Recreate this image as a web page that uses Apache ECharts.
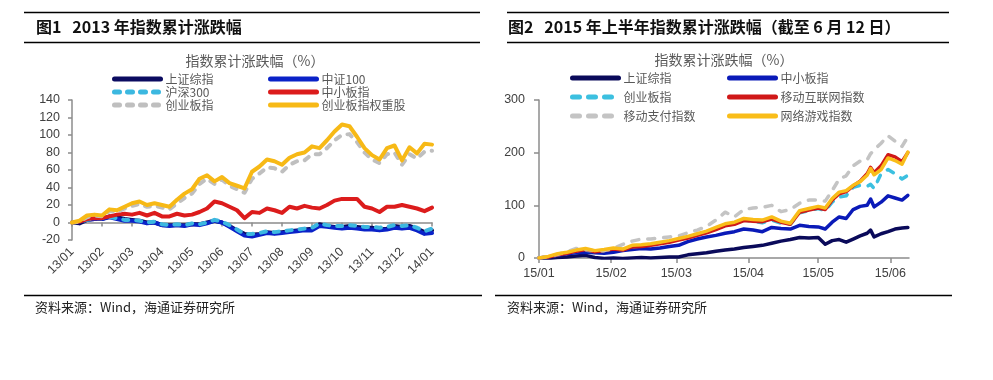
<!DOCTYPE html>
<html><head><meta charset="utf-8">
<script src="https://cdn.jsdelivr.net/npm/echarts@6/dist/echarts.min.js"></script>
<style>html,body{margin:0;padding:0;background:#fff}#c{width:993px;height:380px}</style>
</head><body><div id="c"></div>
<script>
// ---- Figure 1 (2013) ----
const months13 = ['13/01','13/02','13/03','13/04','13/05','13/06','13/07','13/08','13/09','13/10','13/11','13/12','14/01'];
const shComp13 = [0,-1,3,4,4,7,6,4,3,2, 0,0,-3,-3,-3,-3,-2,-2,0,2, 0,-4,-9,-13,-14,-13,-11,-12,-11,-10, -9,-8,-7,-2,-4,-5,-5,-4,-5,-6, -6,-8,-7,-4,-5,-4,-7,-11,-9];
const csi100_13 = [0,1,3,4,4,6,4,2,2,1, -1,0,-3,-4,-3,-4,-2,-3,-1,2, 0,-5,-10,-15,-16,-14,-12,-13,-12,-11, -10,-9,-9,-4,-5,-6,-7,-6,-7,-8, -8,-9,-8,-6,-7,-6,-9,-13,-12];
const hs300_13 = [0,1,3,5,5,6,5,3,3,2, 0,1,-2,-3,-2,-3,-1,-2,0,3, 1,-3,-8,-13,-13,-12,-10,-11,-10,-9, -8,-7,-6,-1,-3,-4,-4,-3,-4,-5, -5,-6,-5,-3,-4,-3,-6,-10,-7];
const sme13 = [0,1,4,5,5,7,9,10,9,11, 8,11,7,7,10,8,9,12,16,24, 22,18,14,5,12,11,16,14,11,18, 16,19,17,16,20,25,27,27,27,18, 16,12,18,18,20,18,16,13,17];
const chinext13 = [0,1,6,8,7,13,12,16,19,21, 18,19,17,15,22,28,33,44,50,44, 49,42,38,34,50,56,63,62,58,66, 70,71,78,78,85,94,100,101,92,80, 72,68,78,80,66,78,73,81,82];
const chinextHeavy13 = [0,2,8,9,8,15,14,18,22,24, 20,22,20,18,26,33,38,50,54,47, 52,45,42,39,58,64,72,70,66,74, 78,80,87,85,94,104,112,110,98,85, 77,72,85,88,71,86,79,90,89];

// ---- Figure 2 (2015 H1) ----
const days15 = [0,4,8,12,16,20,24,28,32,36,40,44,48,52,56,60,64,68,72,76,80,84,88,92,96,100,104,108,112,116,120,123,126,129,132,135,138,141,142.5,144,147,150,153,156,158.5];
const monthTicks15 = [0,31,59,90,120,151];
const monthLabels15 = ['15/01','15/02','15/03','15/04','15/05','15/06'];
const sh15 = [0,-1,1,2,4,5,1,-1,0,-1,0,1,0,1,2,2,6,8,10,13,15,17,20,22,24,28,32,35,39,38,39, 26,33,35,30,36,42,47,53,40,46,50,55,57,58];
const sme15 = [0,2,5,8,10,11,10,9,11,14,16,18,17,19,22,24,31,36,40,43,47,50,55,53,50,58,56,55,62,60,59, 55,68,78,75,92,98,100,112,97,106,118,114,110,119];
const chinext15 = [0,2,6,10,13,15,12,14,17,16,21,23,25,28,31,35,39,44,49,55,62,65,72,70,67,72,66,64,86,90,94, 90,106,116,118,134,138,136,140,132,160,168,160,150,157];
const mobileNet15 = [0,2,6,9,13,16,12,14,17,15,21,22,24,27,30,34,38,43,48,54,61,64,71,70,69,74,68,64,87,91,95, 92,110,122,126,137,146,160,172,162,175,196,192,183,200];
const mobilePay15 = [0,3,7,12,18,16,14,14,18,26,32,36,36,38,40,42,48,53,60,72,87,78,92,95,96,100,88,92,104,110,110, 108,128,150,156,175,184,186,198,205,218,232,222,212,230];
const onlineGame15 = [0,3,8,11,15,18,14,16,19,17,24,25,27,30,33,37,41,46,51,58,65,68,75,73,72,78,70,66,90,94,98, 95,113,125,128,138,145,157,170,158,168,190,185,178,201];

// categories for figure 1: 4 steps per month
const cats13 = [];
for (let i = 0; i < months13.length - 1; i++) for (let k = 0; k < 4; k++) cats13.push(months13[i] + '#' + k);
cats13.push(months13[months13.length - 1] + '#0');

const CJK = '"Noto Sans CJK SC", "Noto Sans", sans-serif';
const NUM = '"Liberation Sans", Arial, sans-serif';

function s1(name, data, color, dashed) {
  return {
    name, type: 'line', xAxisIndex: 0, yAxisIndex: 0, data, symbol: 'none', showSymbol: false, legendIcon: 'none',
    lineStyle: { color, width: 4, type: dashed ? [5, 8] : 'solid', cap: 'round', join: 'round' },
    itemStyle: { color }
  };
}
function s2(name, vals, color, dashed) {
  return {
    name, type: 'line', xAxisIndex: 2, yAxisIndex: 1, data: days15.map((d, i) => [d, vals[i]]),
    symbol: 'none', showSymbol: false, legendIcon: 'none',
    lineStyle: { color, width: 3.5, type: dashed ? [7, 9] : 'solid', cap: 'round', join: 'round' },
    itemStyle: { color }
  };
}

const legendBase = {
  orient: 'vertical', itemWidth: 46, itemHeight: 10, padding: 0, itemGap: 1, itemTextGap: 6,
  textStyle: { fontSize: 12, color: '#595959', fontFamily: CJK, lineHeight: 10 },
  lineStyle: { width: 5 }, itemStyle: { opacity: 0 }, selectedMode: false
};

const option = {
  animation: false,
  backgroundColor: '#ffffff',
  grid: [
    { left: 72, top: 100, width: 360, height: 140, outerBoundsMode: 'none' },
    { left: 539, top: 100, width: 370, height: 158, outerBoundsMode: 'none' }
  ],
  legend: [
    Object.assign({}, legendBase, { data: ['上证综指', '沪深300', '创业板指'], left: 112, top: 73 }),
    Object.assign({}, legendBase, { data: ['中证100', '中小板指', '创业板指权重股'], left: 268, top: 73 }),
    Object.assign({}, legendBase, { data: ['上证综指 ', '创业板指 ', '移动支付指数'], left: 570, top: 72, itemGap: 7 }),
    Object.assign({}, legendBase, { data: ['中小板指 ', '移动互联网指数', '网络游戏指数'], left: 727, top: 72, itemGap: 7 })
  ],
  xAxis: [
    { type: 'category', gridIndex: 0, data: cats13, boundaryGap: false, position: 'bottom',
      axisLine: { show: false, onZero: false }, axisTick: { show: false },
      axisLabel: { interval: 3, rotate: 45, margin: 10, fontSize: 12.5, color: '#404040', fontFamily: NUM,
        formatter: v => v.split('#')[0] } },
    { type: 'category', gridIndex: 0, data: cats13, boundaryGap: false, position: 'bottom',
      axisLine: { show: true, onZero: true, lineStyle: { color: '#8c8c8c', width: 1.5 } },
      axisTick: { show: true, interval: 3, length: 4, lineStyle: { color: '#8c8c8c', width: 1.5 } },
      axisLabel: { show: false } },
    { type: 'value', gridIndex: 1, min: 0, max: 159, position: 'bottom',
      axisLine: { onZero: false, lineStyle: { color: '#8c8c8c', width: 1.5 } },
      axisTick: { customValues: monthTicks15, length: 5, lineStyle: { color: '#8c8c8c', width: 1.5 } },
      axisLabel: { customValues: monthTicks15, margin: 9, fontSize: 12.5, color: '#404040', fontFamily: NUM,
        formatter: v => monthLabels15[monthTicks15.indexOf(v)] || '' },
      splitLine: { show: false } }
  ],
  yAxis: [
    { type: 'value', gridIndex: 0, min: -20, max: 140, interval: 20,
      axisLine: { show: true, onZero: false, lineStyle: { color: '#8c8c8c', width: 1.5 } },
      axisTick: { show: true, length: 4, lineStyle: { color: '#8c8c8c', width: 1.5 } },
      axisLabel: { margin: 12, fontSize: 12.5, color: '#404040', fontFamily: NUM },
      splitLine: { show: false } },
    { type: 'value', gridIndex: 1, min: 0, max: 300, interval: 100,
      axisLine: { show: true, onZero: false, lineStyle: { color: '#8c8c8c', width: 1.5 } },
      axisTick: { show: true, length: 5, lineStyle: { color: '#8c8c8c', width: 1.5 } },
      axisLabel: { margin: 14, fontSize: 12.5, color: '#404040', fontFamily: NUM },
      splitLine: { show: false } }
  ],
  series: [
    s1('上证综指', shComp13, '#0b0b60', false),
    s1('中证100', csi100_13, '#0a22c8', false),
    s1('沪深300', hs300_13, '#3cb8e0', true),
    s1('中小板指', sme13, '#dc1c1c', false),
    s1('创业板指', chinext13, '#bfbfbf', true),
    s1('创业板指权重股', chinextHeavy13, '#f7b916', false),
    s2('上证综指 ', sh15, '#0a0a5a', false),
    s2('中小板指 ', sme15, '#0a1ab8', false),
    s2('创业板指 ', chinext15, '#3cc0e0', true),
    s2('移动互联网指数', mobileNet15, '#d01818', false),
    s2('移动支付指数', mobilePay15, '#c4c4c4', true),
    s2('网络游戏指数', onlineGame15, '#f9bd19', false)
  ],
  graphic: [
    { type: 'line', shape: { x1: 24, y1: 12.5, x2: 480, y2: 12.5 }, style: { stroke: '#000', lineWidth: 1.5 } },
    { type: 'line', shape: { x1: 24, y1: 42.5, x2: 480, y2: 42.5 }, style: { stroke: '#000', lineWidth: 1.5 } },
    { type: 'line', shape: { x1: 507, y1: 12.5, x2: 949, y2: 12.5 }, style: { stroke: '#000', lineWidth: 1.5 } },
    { type: 'line', shape: { x1: 507, y1: 42.5, x2: 949, y2: 42.5 }, style: { stroke: '#000', lineWidth: 1.5 } },
    { type: 'line', shape: { x1: 24, y1: 295.5, x2: 482, y2: 295.5 }, style: { stroke: '#000', lineWidth: 1.5 } },
    { type: 'line', shape: { x1: 495, y1: 295.5, x2: 952, y2: 295.5 }, style: { stroke: '#000', lineWidth: 1.5 } },
    { type: 'text', x: 36, y: 27, style: { text: '图1   2013 年指数累计涨跌幅', font: 'bold 16px ' + CJK, fill: '#111', verticalAlign: 'middle' } },
    { type: 'text', x: 508, y: 27, style: { text: '图2   2015 年上半年指数累计涨跌幅（截至 6 月 12 日）', font: 'bold 16px ' + CJK, fill: '#111', verticalAlign: 'middle' } },
    { type: 'text', x: 255, y: 61, style: { text: '指数累计涨跌幅（%）', font: '14px ' + CJK, fill: '#595959', align: 'center', verticalAlign: 'middle' } },
    { type: 'text', x: 724, y: 60, style: { text: '指数累计涨跌幅（%）', font: '14px ' + CJK, fill: '#595959', align: 'center', verticalAlign: 'middle' } },
    { type: 'text', x: 35, y: 307, style: { text: '资料来源：Wind，海通证券研究所', font: '13px ' + CJK, fill: '#222', verticalAlign: 'middle' } },
    { type: 'text', x: 507, y: 307, style: { text: '资料来源：Wind，海通证券研究所', font: '13px ' + CJK, fill: '#222', verticalAlign: 'middle' } }
  ]
};
const chart = echarts.init(document.getElementById('c'), null, { renderer: 'canvas' });
chart.setOption(option);
</script>
</body></html>
